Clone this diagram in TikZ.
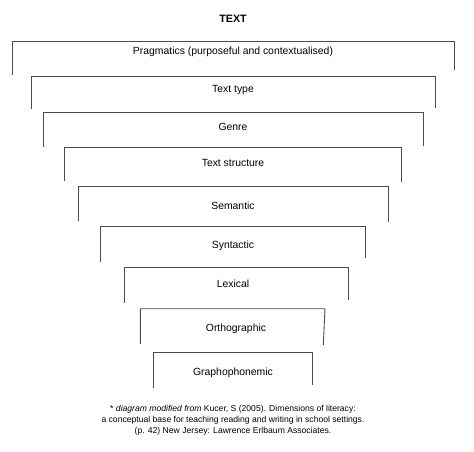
\documentclass[tikz,border=0pt]{standalone}
\usepackage{fontspec}
\setmainfont{Liberation Sans}
\usepackage{tikz}

\begin{document}
\begin{tikzpicture}[x=1pt, y=-1pt,
    level/.style={draw=black!70, line width=0.9pt},
    lbl/.style={font=\fontsize{10.4}{12}\selectfont, inner sep=0pt}]
    \useasboundingbox (0, 0) rectangle (474, 451);

    \node[font=\fontsize{10.7}{12}\selectfont\bfseries, inner sep=0pt] (title) at (233, 18.5) {TEXT};

    \draw[level] (12.3, 75) -- (12.3, 41.7) -- (454, 41.7) -- (454, 70);
    \node[lbl] (pragmatics) at (233, 51.7) {Pragmatics (purposeful and contextualised)};

    \draw[level] (31.7, 109) -- (31.7, 76) -- (435, 76) -- (435, 108);
    \node[lbl] (texttype) at (233, 90) {Text type};

    \draw[level] (43.3, 146.7) -- (43.3, 112.7) -- (423.3, 112.7) -- (423.3, 145.7);
    \node[lbl] (genre) at (233, 126.7) {Genre};

    \draw[level] (64.3, 181) -- (64.3, 147.3) -- (401.7, 147.3) -- (401.7, 182);
    \node[lbl] (structure) at (233, 162.7) {Text structure};

    \draw[level] (78.3, 221) -- (78.3, 186) -- (388.3, 186) -- (388.3, 222);
    \node[lbl] (semantic) at (233, 206) {Semantic};

    \draw[level] (100, 262.3) -- (100, 226.7) -- (365.7, 226.7) -- (365.7, 258);
    \node[lbl] (syntactic) at (233, 245.7) {Syntactic};

    \draw[level] (124.3, 302.7) -- (124.3, 267.3) -- (348.3, 267.3) -- (348.3, 300);
    \node[lbl] (lexical) at (233, 284) {Lexical};

    \draw[level] (140.3, 344) -- (140.3, 308.7) -- (325, 308.7) -- (323.3, 345);
    \node[lbl] (orthographic) at (236, 329.3) {Orthographic};

    \draw[level] (153.3, 388.3) -- (153.3, 352.7) -- (312, 352.7) -- (312, 385);
    \node[lbl] (grapho) at (233, 373.3) {Graphophonemic};

    \node[font=\fontsize{8.6}{10.8}\selectfont, align=center, inner sep=0pt] (source) at (233, 420.3)
        {* \textit{diagram modified from} Kucer, S (2005). Dimensions of literacy:\\
         a conceptual base for teaching reading and writing in school settings.\\
         (p. 42) New Jersey: Lawrence Erlbaum Associates.};
\end{tikzpicture}
\end{document}
